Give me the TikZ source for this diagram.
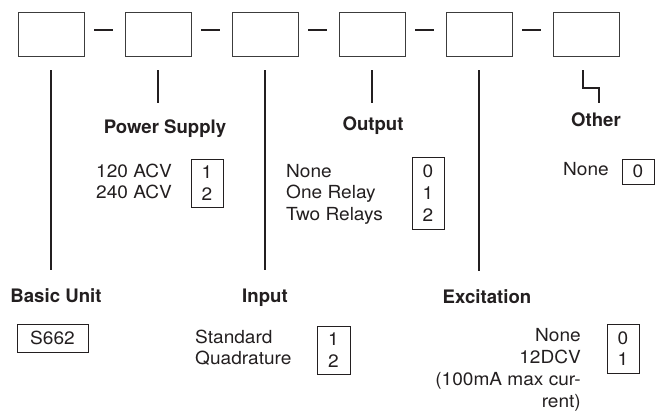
\documentclass[tikz,border=0pt]{standalone}
\usepackage{fontspec}
\setmainfont{TeX Gyre Heros}
\newfontfamily\optfont[FakeStretch=1.06]{TeX Gyre Heros}
\usetikzlibrary{positioning, calc}
\definecolor{ink}{RGB}{35,31,32}
\definecolor{rim}{RGB}{60,60,60}
\tikzset{
  slot/.style={rectangle, draw=rim, line width=0.9pt, minimum width=66pt,
    minimum height=44pt, inner sep=0pt},
  joiner/.style={line width=2pt, color=ink},
  stem/.style={line width=2pt, color=ink},
  heading/.style={font=\fontsize{18.6}{21.7}\selectfont\bfseries, text=ink,
    inner sep=0pt, anchor=base},
  opts/.style={font=\optfont\fontsize{18}{21.7}\selectfont, text=ink, inner sep=0pt,
    align=left, anchor=base west},
  numbox/.style={rectangle, draw=ink, line width=0.8pt, text=ink,
    font=\optfont\fontsize{18}{21.7}\selectfont, align=center, inner sep=0pt,
    minimum width=32pt}
}
\begin{document}
\begin{tikzpicture}[x=1pt, y=-1pt]
  \useasboundingbox (0,0) rectangle (660,411);

  % Code slots
  \foreach \i in {1,...,6}
    \node[slot] (b\i) at ({51+107*(\i-1)}, 34) {};
  \foreach \i [evaluate=\i as \j using int(\i+1)] in {1,...,5}
    \draw[joiner] ([xshift=10pt, yshift=3.5pt]b\i.east) -- ([xshift=-12pt, yshift=3.5pt]b\j.west);

  % Headings
  \node[heading] (lbasic) at (56, 302) {Basic Unit};
  \node[heading] (lpower) at (165, 134) {Power Supply};
  \node[heading] (linput) at (265, 302) {Input};
  \node[heading] (loutput) at (373, 131) {Output};
  \node[heading] (lexcit) at (487, 303) {Excitation};
  \node[heading] (lother) at (596, 127) {Other};

  % Stems
  \draw[stem] ([yshift=-14pt]b1.south) -- ([yshift=18pt]b1.south |- lbasic.north);
  \draw[stem] ([yshift=-14pt]b2.south) -- ([yshift=-47pt]b2.south);
  \draw[stem] ([yshift=-14pt]b3.south) -- ([yshift=18pt]b3.south |- linput.north);
  \draw[stem] ([yshift=-14pt]b4.south) -- ([yshift=-47pt]b4.south);
  \draw[stem] ([yshift=-14pt]b5.south) -- ([yshift=18pt]b5.south |- lexcit.north);
  \draw[stem] ([shift={(-3pt,-14pt)}]b6.south) |- ([shift={(13pt,-32pt)}]b6.south)
    -- ([shift={(13pt,-47pt)}]b6.south);

  % Options (base = last line)
  \node[opts] (opower) at (96, 199) {120 ACV\\240 ACV};
  \node[numbox, minimum height=48pt] (npower) at (207, 183) {1\\2};

  \node[opts] (ooutput) at (286, 220.5) {None\\One Relay\\Two Relays};
  \node[numbox, minimum height=72pt] (noutput) at (428, 193) {0\\1\\2};

  \node[opts] (oother) at (563, 176) {None};
  \node[numbox, minimum height=25pt] (nother) at (638, 171.5) {0};

  \node[numbox, minimum width=71pt, minimum height=28pt] (nbasic) at (52.5, 338) {S662};

  \node[opts] (oinput) at (195, 364.7) {Standard\\Quadrature};
  \node[numbox, minimum width=33pt, minimum height=48pt] (ninput) at (333.5, 350) {1\\2};

  \node[opts, align=right, anchor=base east] (oexcit) at (581, 407)
    {None\\12DCV\\(100mA max cur-\\rent)};
  \node[numbox, minimum height=49pt] (nexcit) at (623, 348.5) {0\\1};

\end{tikzpicture}
\end{document}
